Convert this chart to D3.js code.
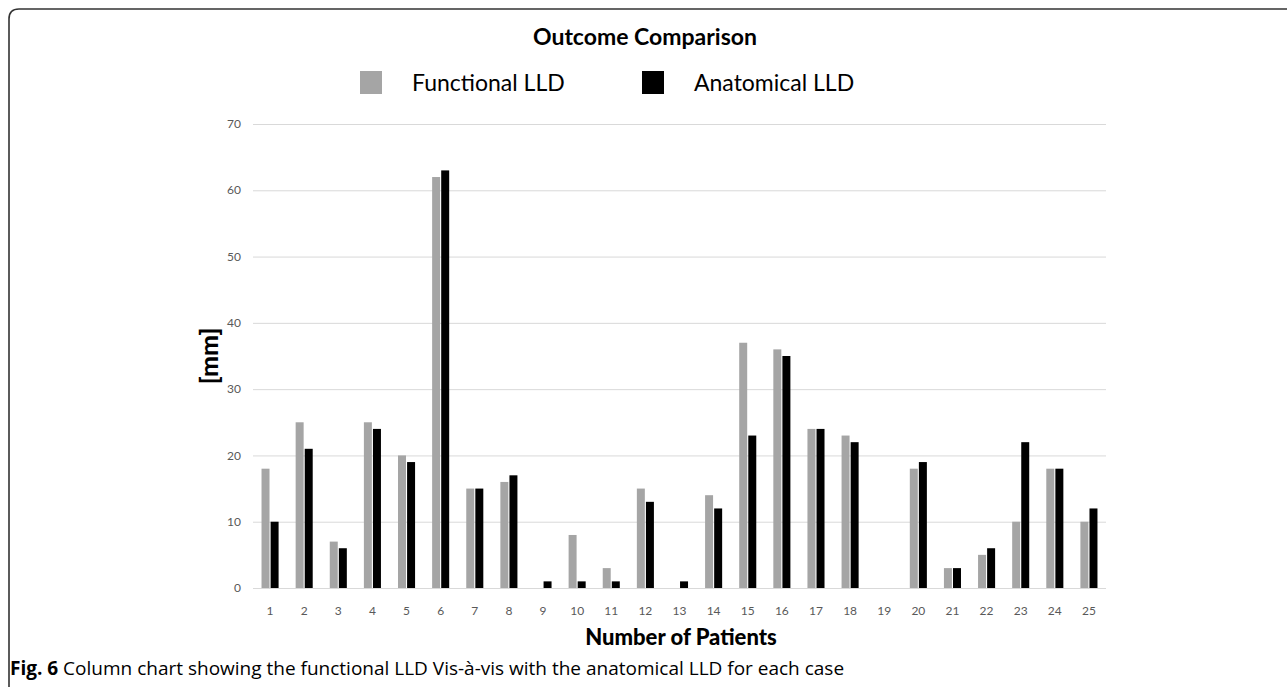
<!DOCTYPE html>
<html lang="en">
<head>
  <meta charset="UTF-8">
  <title>Outcome Comparison</title>
  <style>
    body {
      margin: 0;
      background: #fff;
      font-family: Lato, "Open Sans", sans-serif;
    }
    .grid line { stroke: #d9d9d9; stroke-width: 1px; }
    .tick-label { fill: #595959; font-size: 12px; }
  </style>
</head>
<body>
  <svg id="chart" width="1287" height="687"></svg>

  <script src="https://d3js.org/d3.v7.min.js"></script>
  <script>
    // --- data ---
    const patients = d3.range(1, 26).map(String);
    const seriesNames = ["Functional LLD", "Anatomical LLD"];
    const seriesColors = ["#a5a5a5", "#000000"];
    const functionalLLD = [18, 25, 7, 25, 20, 62, 15, 16, 0, 8, 3, 15, 0, 14, 37, 36, 24, 23, 0, 18, 3, 5, 10, 18, 10];
    const anatomicalLLD = [10, 21, 6, 24, 19, 63, 15, 17, 1, 1, 1, 13, 1, 12, 23, 35, 24, 22, 0, 19, 3, 6, 22, 18, 12];
    const yTicks = [0, 10, 20, 30, 40, 50, 60, 70];

    const svg = d3.select("#chart");
    const W = 1287, H = 687;

    // frame (open to the right and bottom, like the cropped figure box)
    svg.append("path")
      .attr("d", `M9,${H} L9,19 Q9,9 19,9 L${W},9`)
      .attr("fill", "none")
      .attr("stroke", "#333")
      .attr("stroke-width", 1.6);

    const plotLeft = 253, plotRight = 1106, plotTop = 124, plotBottom = 588;

    const x = d3.scaleBand().domain(patients).range([plotLeft, plotRight])
      .paddingInner(0.5).paddingOuter(0.25);
    const x1 = d3.scaleBand().domain([0, 1]).range([0, x.bandwidth()]).paddingInner(0.12);
    const y = d3.scaleLinear().domain([0, 70]).range([plotBottom, plotTop]);

    // gridlines
    svg.append("g").attr("class", "grid")
      .selectAll("line").data(yTicks).join("line")
      .attr("x1", plotLeft).attr("x2", plotRight)
      .attr("y1", d => y(d) + 0.5).attr("y2", d => y(d) + 0.5);

    // y tick labels
    svg.append("g").selectAll("text").data(yTicks).join("text")
      .attr("class", "tick-label")
      .attr("x", plotLeft - 12)
      .attr("y", d => y(d))
      .attr("dy", "0.35em")
      .attr("text-anchor", "end")
      .text(d => d);

    // bars
    const series = [functionalLLD, anatomicalLLD];
    series.forEach((vals, s) => {
      svg.append("g").selectAll("rect").data(vals).join("rect")
        .attr("x", (d, i) => x(patients[i]) + x1(s))
        .attr("y", d => y(d))
        .attr("width", x1.bandwidth())
        .attr("height", d => y(0) - y(d))
        .attr("fill", seriesColors[s]);
    });

    // x tick labels
    svg.append("g").selectAll("text").data(patients).join("text")
      .attr("class", "tick-label")
      .attr("x", d => x(d) + x.bandwidth() / 2)
      .attr("y", plotBottom + 27)
      .attr("text-anchor", "middle")
      .text(d => d);

    // title
    svg.append("text")
      .attr("x", 645).attr("y", 45)
      .attr("text-anchor", "middle")
      .attr("font-size", 23).attr("font-weight", "bold")
      .attr("fill", "#000")
      .text("Outcome Comparison");

    // legend
    const legendX = [360, 642];
    seriesNames.forEach((name, s) => {
      svg.append("rect")
        .attr("x", legendX[s]).attr("y", 71)
        .attr("width", 22).attr("height", 23)
        .attr("fill", seriesColors[s]);
      svg.append("text")
        .attr("x", legendX[s] + 52).attr("y", 91)
        .attr("font-size", 23)
        .attr("fill", "#000")
        .text(name);
    });

    // axis titles
    svg.append("text")
      .attr("transform", `translate(218,356) rotate(-90)`)
      .attr("text-anchor", "middle")
      .attr("font-size", 25).attr("font-weight", 900)
      .text("[mm]");

    svg.append("text")
      .attr("x", 681).attr("y", 645)
      .attr("text-anchor", "middle")
      .attr("font-size", 22).attr("font-weight", 900)
      .text("Number of Patients");

    // caption
    const cap = svg.append("text")
      .attr("x", 10).attr("y", 675)
      .attr("font-size", 19)
      .attr("font-family", "'Open Sans', sans-serif");
    cap.append("tspan").attr("font-weight", "bold").text("Fig. 6");
    cap.append("tspan").text(" Column chart showing the functional LLD Vis-à-vis with the anatomical LLD for each case");
  </script>
</body>
</html>
